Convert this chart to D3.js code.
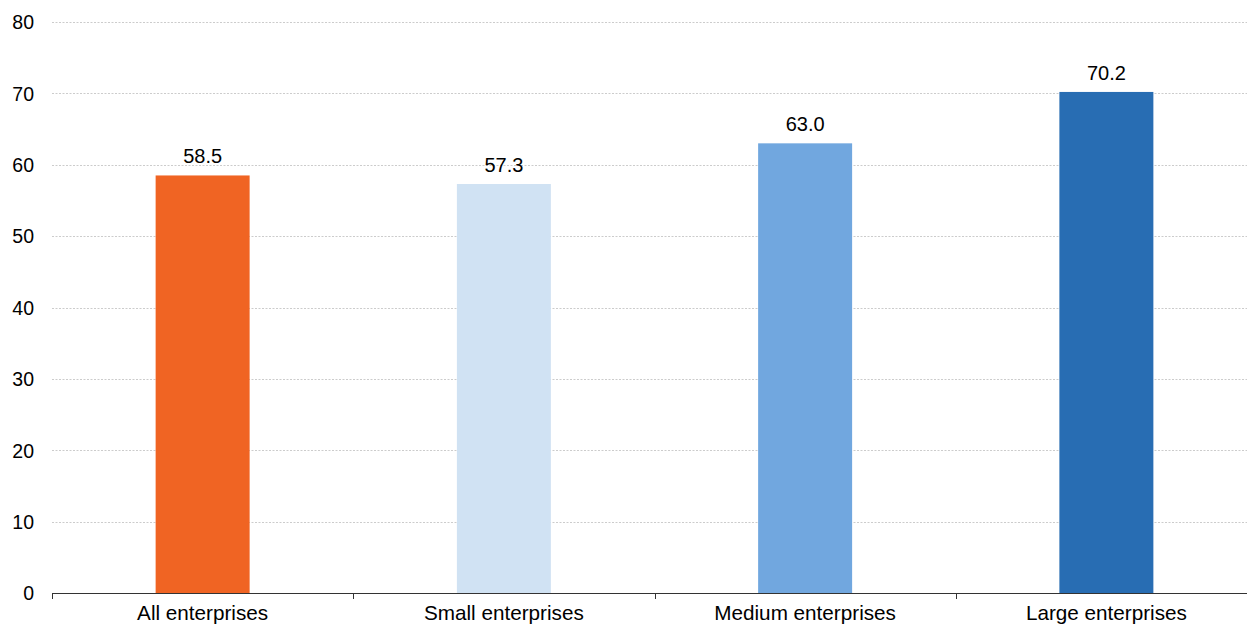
<!DOCTYPE html>
<html>
<head>
<meta charset="utf-8">
<script src="https://cdn.jsdelivr.net/npm/d3@7"></script>
<style>
  html, body { margin: 0; padding: 0; background: #fff; overflow: hidden; }
  svg { display: block; font-family: Arial, "Liberation Sans", sans-serif; }
</style>
</head>
<body>
<svg id="chart" width="1247" height="626"></svg>
<script>
// Share of enterprises by size class
const categories = ["All enterprises", "Small enterprises", "Medium enterprises", "Large enterprises"];
const values = [58.5, 57.3, 63.0, 70.2];
const colors = ["#F06423", "#D0E2F3", "#71A7DF", "#286DB3"];
const yTicks = [0, 10, 20, 30, 40, 50, 60, 70, 80];

const svg = d3.select("#chart");
const plotLeft = 52, plotRight = 1257, plotTop = 22, plotBottom = 593;

const x = d3.scaleBand()
  .domain(categories)
  .range([plotLeft, plotRight])
  .paddingInner(0.688)
  .paddingOuter(0.344);

// band boundaries (for the category separator ticks)
const step = (plotRight - plotLeft) / categories.length;

const y = d3.scaleLinear().domain([0, 80]).range([plotBottom, plotTop]);

// horizontal gridlines
svg.append("g")
  .selectAll("line")
  .data(yTicks.filter(d => d > 0))
  .join("line")
  .attr("x1", plotLeft).attr("x2", 1247)
  .attr("y1", d => Math.round(y(d)) + 0.5)
  .attr("y2", d => Math.round(y(d)) + 0.5)
  .attr("stroke", "#cccccc")
  .attr("stroke-width", 1)
  .attr("stroke-dasharray", "2,1.5");

// y-axis labels
const yAxis = d3.axisLeft(y).tickValues(yTicks).tickSize(0).tickPadding(0).tickFormat(d3.format("d"));
const yg = svg.append("g").attr("transform", `translate(${plotLeft - 18},0)`).call(yAxis);
yg.select(".domain").remove();
yg.selectAll("text")
  .attr("font-size", 19.5)
  .attr("font-family", "Arial, 'Liberation Sans', sans-serif")
  .attr("fill", "#000")
  .attr("dy", "0.35em");

// bars
svg.append("g")
  .selectAll("rect")
  .data(values)
  .join("rect")
  .attr("x", (d, i) => x(categories[i]))
  .attr("width", x.bandwidth())
  .attr("y", d => y(d))
  .attr("height", d => y(0) - y(d))
  .attr("fill", (d, i) => colors[i]);

// value labels
svg.append("g")
  .selectAll("text")
  .data(values)
  .join("text")
  .attr("x", (d, i) => x(categories[i]) + x.bandwidth() / 2)
  .attr("y", d => y(d) - 12)
  .attr("text-anchor", "middle")
  .attr("font-size", 20)
  .attr("fill", "#000")
  .text(d => d3.format(".1f")(d));

// x axis line and separator ticks
const xg = svg.append("g");
xg.append("line")
  .attr("x1", plotLeft).attr("x2", 1247)
  .attr("y1", plotBottom + 0.5).attr("y2", plotBottom + 0.5)
  .attr("stroke", "#333").attr("stroke-width", 1);
xg.selectAll("line.sep")
  .data(d3.range(categories.length + 1))
  .join("line")
  .attr("class", "sep")
  .attr("x1", i => Math.round(plotLeft + i * step) + 0.5)
  .attr("x2", i => Math.round(plotLeft + i * step) + 0.5)
  .attr("y1", plotBottom).attr("y2", plotBottom + 6)
  .attr("stroke", "#333").attr("stroke-width", 1);

// category labels
xg.selectAll("text")
  .data(categories)
  .join("text")
  .attr("x", d => x(d) + x.bandwidth() / 2)
  .attr("y", 620)
  .attr("text-anchor", "middle")
  .attr("font-size", 20.7)
  .attr("fill", "#000")
  .text(d => d);
</script>
</body>
</html>
